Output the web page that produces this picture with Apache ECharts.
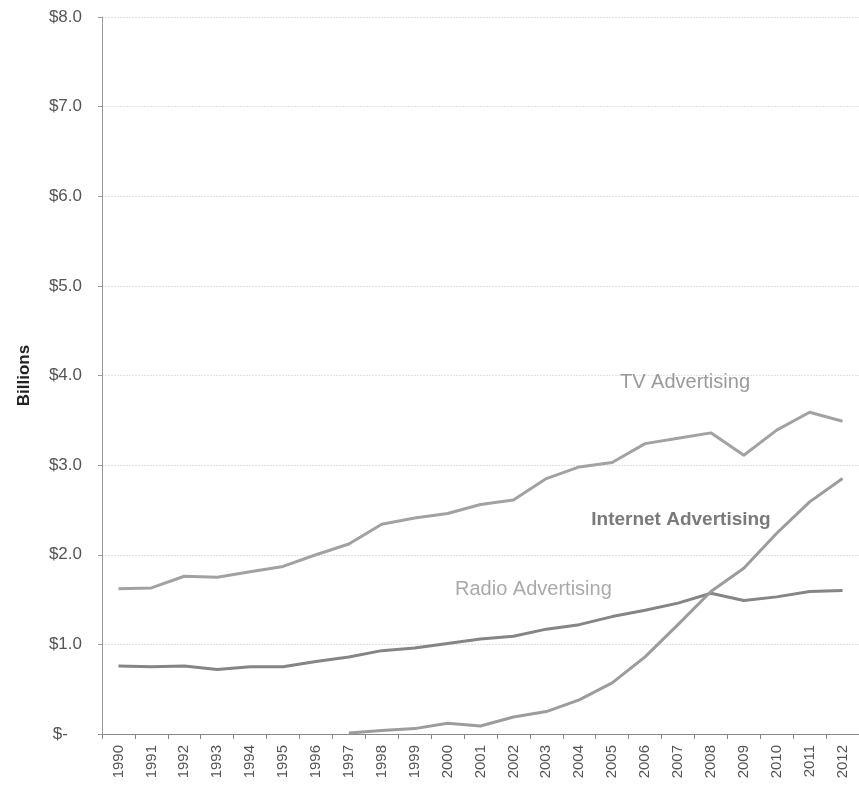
<!DOCTYPE html>
<html><head><meta charset="utf-8">
<script src="https://cdn.jsdelivr.net/npm/echarts@6/dist/echarts.min.js"></script>
<style>html,body{margin:0;padding:0;background:#fff}#c{width:859px;height:785px}</style>
</head><body><div id="c"></div>
<script>
const years = ['1990','1991','1992','1993','1994','1995','1996','1997','1998','1999','2000','2001','2002','2003','2004','2005','2006','2007','2008','2009','2010','2011','2012'];
const tv = [1.62,1.63,1.76,1.75,1.81,1.87,2.00,2.12,2.34,2.41,2.46,2.56,2.61,2.85,2.98,3.03,3.24,3.30,3.36,3.11,3.39,3.59,3.49];
const radio = [0.76,0.75,0.76,0.72,0.75,0.75,0.81,0.86,0.93,0.96,1.01,1.06,1.09,1.17,1.22,1.31,1.38,1.46,1.57,1.49,1.53,1.59,1.60];
const internet = [null,null,null,null,null,null,null,0.01,0.04,0.06,0.12,0.09,0.19,0.25,0.38,0.57,0.86,1.22,1.59,1.85,2.24,2.59,2.85];
const yTicks = [0,1,2,3,4,5,6,7,8];
const seriesNames = ['TV Advertising','Radio Advertising','Internet Advertising'];

const font = '"Liberation Sans", Arial, sans-serif';
const chart = echarts.init(document.getElementById('c'), null, {renderer:'canvas'});
function lineSeries(name, data, color, labelCoord, labelStyle){
  return {
    name, type:'line', data, symbol:'none', smooth:false, connectNulls:false,
    lineStyle:{color, width:3}, silent:true, animation:false,
    markPoint:{
      symbol:'circle', symbolSize:0, silent:true, animation:false,
      data:[{coord:labelCoord, value:name}],
      label:Object.assign({show:true, position:'inside', formatter:name, fontFamily:font}, labelStyle)
    }
  };
}
chart.setOption({
  animation:false,
  grid:{left:102, right:-11, top:17, bottom:51, containLabel:false},
  xAxis:{
    type:'category', data:years, boundaryGap:true,
    axisLine:{lineStyle:{color:'#888', width:1}},
    axisTick:{show:true, length:5, lineStyle:{color:'#888'}},
    axisLabel:{rotate:90, fontSize:15, color:'#555', margin:11, fontFamily:font, interval:0},
    splitLine:{show:false}
  },
  yAxis:{
    type:'value', min:yTicks[0], max:yTicks[yTicks.length-1], interval:1,
    name:'Billions', nameLocation:'middle', nameGap:69, nameRotate:90,
    nameTextStyle:{fontWeight:'bold', fontSize:17, color:'#222', fontFamily:font},
    axisLine:{show:true, lineStyle:{color:'#999', width:1}},
    axisTick:{show:true, length:4, lineStyle:{color:'#999'}},
    axisLabel:{fontSize:17, color:'#555', margin:20, fontFamily:font,
      formatter:v => v===0 ? '$-   ' : '$' + v.toFixed(1)},
    splitLine:{show:true, lineStyle:{color:'#e2e2e2', type:[2,1], width:1}}
  },
  series:[
    lineSeries(seriesNames[0], tv, '#a2a2a2', ['2007', 3.92], {fontSize:20, color:'#9a9a9a', offset:[7,0]}),
    lineSeries(seriesNames[1], radio, '#858585', ['2002', 1.61], {fontSize:20, color:'#aaaaaa', offset:[20,0]}),
    lineSeries(seriesNames[2], internet, '#9c9c9c', ['2007', 2.39], {fontSize:19, color:'#7a7a7a', fontWeight:'bold', offset:[3,0]})
  ]
});
</script></body></html>
